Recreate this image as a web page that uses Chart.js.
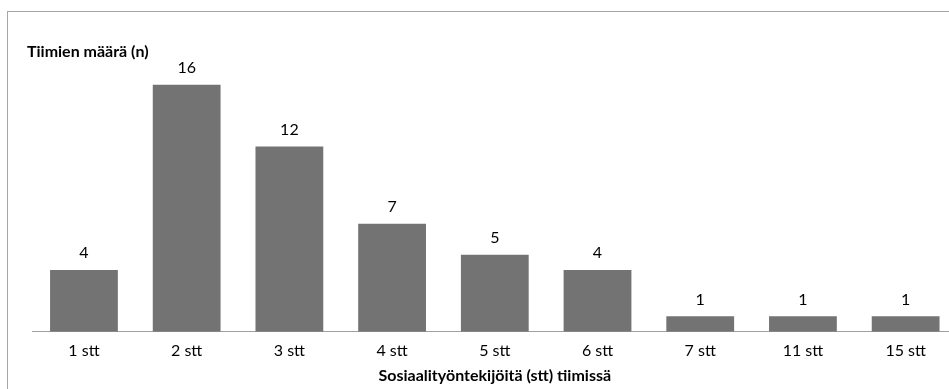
<!DOCTYPE html>
<html>
<head>
<meta charset="utf-8">
<script src="https://cdn.jsdelivr.net/npm/chart.js@4/dist/chart.umd.min.js"></script>
<style>
  html, body { margin: 0; padding: 0; background: #fff; overflow: hidden; }
  #frame {
    position: absolute; left: 7px; top: 11px;
    width: 960px; height: 400px;
    border: 1px solid #a6a6a6;
  }
</style>
</head>
<body>
<div id="frame"><canvas id="teamChart"></canvas></div>
<script>
const categories = ["1 stt", "2 stt", "3 stt", "4 stt", "5 stt", "6 stt", "7 stt", "11 stt", "15 stt"];
const teamCounts = [4, 16, 12, 7, 5, 4, 1, 1, 1];
const yTitle = "Tiimien määrä (n)";
const xTitle = "Sosiaalityöntekijöitä (stt) tiimissä";

const fontFamily = "Lato, 'Open Sans', sans-serif";

// value labels above bars, y title top left, x title under the axis
const labelPlugin = {
    id: "labels",
    afterDatasetsDraw(chart) {
        const ctx = chart.ctx;
        const area = chart.chartArea;
        ctx.save();
        ctx.fillStyle = "#000";
        ctx.font = "16px " + fontFamily;
        ctx.textAlign = "center";
        ctx.textBaseline = "middle";
        chart.getDatasetMeta(0).data.forEach((bar, i) => {
            ctx.fillText(teamCounts[i], bar.x, bar.y - 17);
        });
        ctx.font = "bold 16px " + fontFamily;
        ctx.fillText(xTitle, (area.left + area.right) / 2, area.bottom + 44);
        ctx.textAlign = "left";
        ctx.fillText(yTitle, 19, 40);
        ctx.restore();
    }
};

new Chart(document.getElementById("teamChart"), {
    type: "bar",
    data: {
        labels: categories,
        datasets: [{
            data: teamCounts,
            backgroundColor: "#737373",
            barPercentage: 0.66,
            categoryPercentage: 1
        }]
    },
    options: {
        responsive: true,
        maintainAspectRatio: false,
        animation: false,
        layout: { padding: { left: 24.6, right: 11, top: 42, bottom: 43 } },
        plugins: { legend: { display: false }, tooltip: { enabled: false } },
        scales: {
            x: {
                grid: { display: false, drawTicks: false },
                border: { display: true, color: "#a0a0a0", width: 1 },
                ticks: { color: "#000", padding: 9, font: { family: fontFamily, size: 16 } }
            },
            y: { display: false, min: 0, max: 18 }
        }
    },
    plugins: [labelPlugin]
});
</script>
</body>
</html>
